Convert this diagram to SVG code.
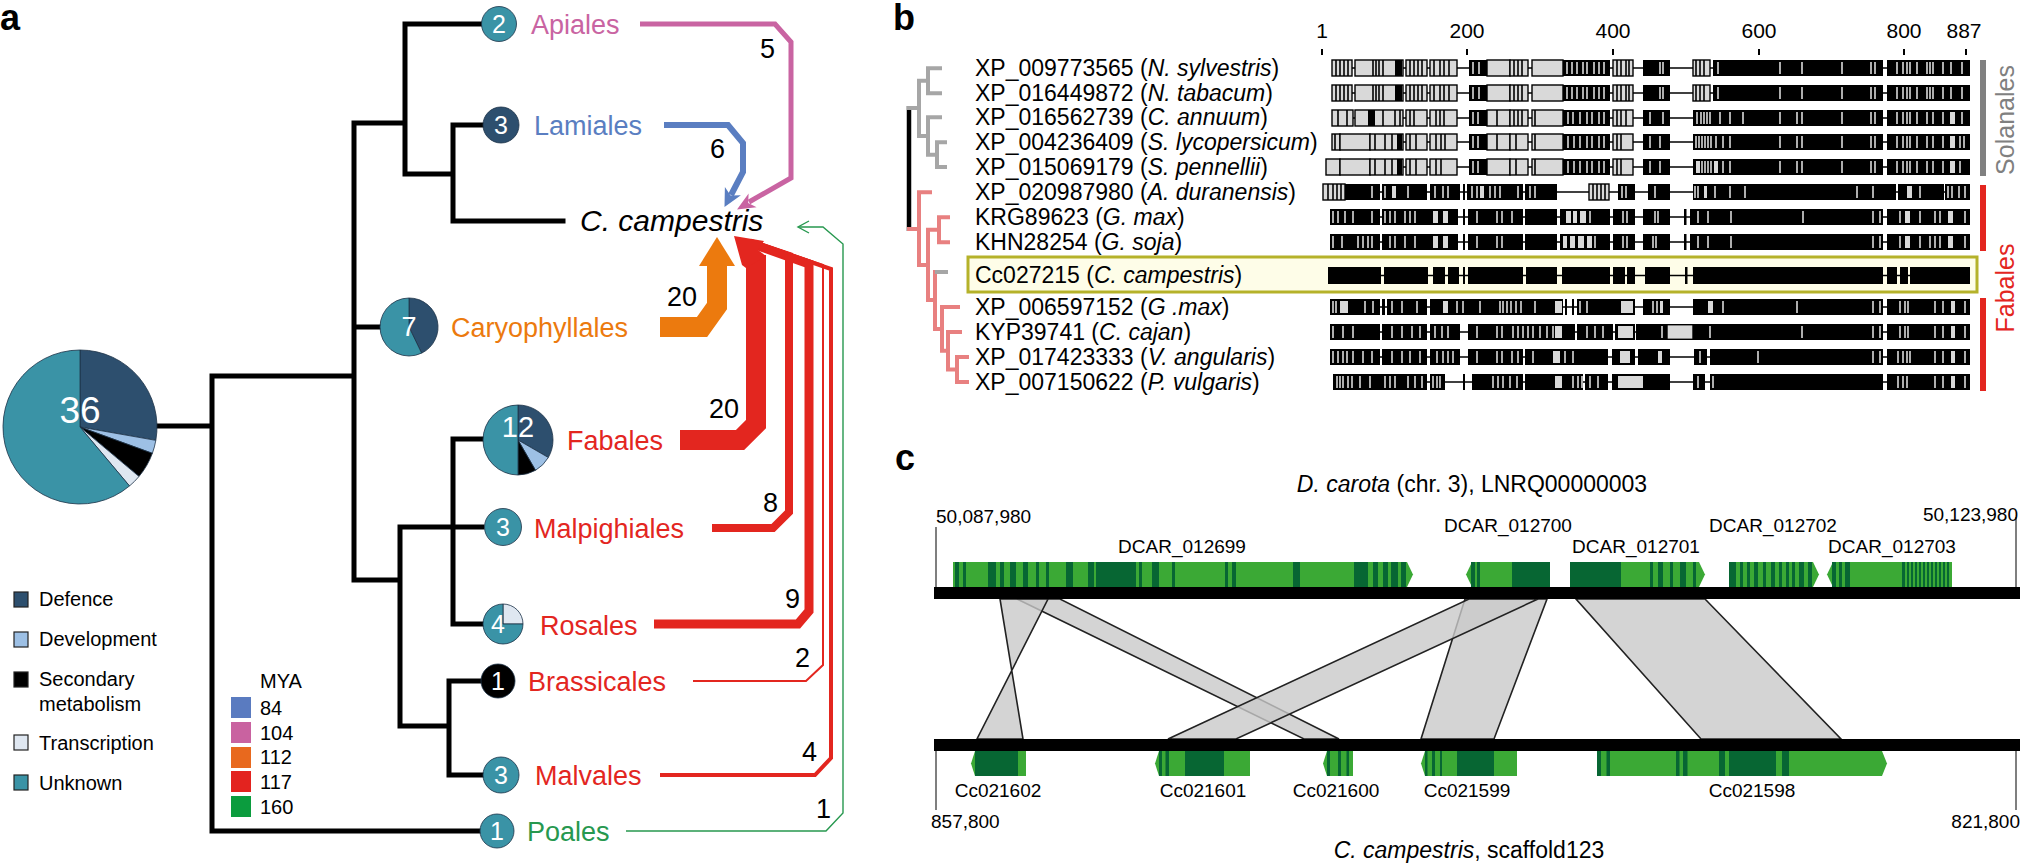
<svg xmlns="http://www.w3.org/2000/svg" xmlns:xlink="http://www.w3.org/1999/xlink" width="2022" height="866" viewBox="0 0 2022 866">
<style>
text{font-family:"Liberation Sans",Arial,sans-serif;fill:#000}
.pl{font-size:36px;font-weight:bold}
.lab{font-size:27px}
.num{font-size:27px}
.cn{font-size:25px;fill:#fff;text-anchor:middle}
.leg{font-size:20px}
.bl{font-size:23px}
.ax{font-size:21px;text-anchor:middle}
.sm{font-size:19px}
.mid{text-anchor:middle}
.end{text-anchor:end}
.it{font-style:italic}
.tree{stroke:#000;stroke-width:5;fill:none;stroke-linecap:square}
.pe{stroke:#1d3247;stroke-width:0.8}
.nv{fill:#2d4f6e}.tl{fill:#3a93a6}.lb{fill:#9dc0e5}.tr{fill:#dfe7f1}.bk{fill:#000}
.flow{fill:none;stroke-linejoin:miter;stroke-miterlimit:10}
.k{fill:#000}
.g{fill:#d9d9d9;stroke:#000;stroke-width:1.4}
.bx{fill:#d9d9d9}
.ws{stroke:#d9d9d9;stroke-width:1.6;fill:none}
.bs{stroke:#000;stroke-width:1.6;fill:none}
.gl{stroke:#000;stroke-width:1.6}
.lg{fill:#3ba935}.dg{fill:#076633}
.rib{fill:#c9c9c9;fill-opacity:0.8;stroke:#222;stroke-width:1.6}
.chr{fill:#000}
.tick{stroke:#555;stroke-width:1.5}
</style>

<!-- ============ PANEL A ============ -->
<text class="pl" x="0" y="30">a</text>

<g id="tree-a">
<path class="tree" d="M156 426H212M212 376V831M212 376H354M354 123V580M354 123H405M405 24V174M405 24H482M405 174H453M453 125V221M453 125H482M453 221H563M354 327H381M354 580H400M400 527V726M400 527H482M453 439V624M453 439H483M453 624H483M400 726H449M449 681V775M449 681H482M449 775H482M212 831H481"/>
</g>

<g id="connectors-a">
<path class="flow" stroke="#27984f" stroke-width="1.4" d="M626 831H826L843 813V244L823 227H799"/>
<path fill="none" stroke="#27984f" stroke-width="1.4" d="M809 221L798 227L809 233"/>
<path class="flow" stroke="#e3261f" stroke-width="4" d="M660 775H815L831 758V269L750 241"/>
<path class="flow" stroke="#e3261f" stroke-width="2" d="M693 681H806L823 665V265L750 240"/>
<path class="flow" stroke="#e3261f" stroke-width="9" d="M654 624H798L809 611V264L750 243"/>
<path class="flow" stroke="#e3261f" stroke-width="8" d="M712 528H773L789 512V256L750 243"/>
<path class="flow" stroke="#e3261f" stroke-width="20" d="M680 440H740L756 424V255"/>
<polygon fill="#e3261f" points="734,236 764,241 758,250 766,256 746,268 742,265"/>
<path class="flow" stroke="#ec7a0e" stroke-width="20" d="M660 327H702L717 306V262"/>
<polygon fill="#ec7a0e" points="717,237 735,266 699,266"/>
<path class="flow" stroke="#5a7ec1" stroke-width="6" d="M664 125H728L743 143V172L731 195"/>
<polygon fill="#5a7ec1" points="724.5,207 740.9,195.3 730.6,195.5 724.9,186.9"/>
<path class="flow" stroke="#c964a2" stroke-width="5" d="M640 24H775L791 42V178L749 202"/>
<polygon fill="#c964a2" points="737,209.5 756.6,207.3 748.2,203 748.6,193.5"/>
</g>

<g id="flow-numbers">
<text class="num" x="760" y="58">5</text>
<text class="num" x="710" y="158">6</text>
<text class="num" x="667" y="306">20</text>
<text class="num" x="709" y="418">20</text>
<text class="num" x="763" y="512">8</text>
<text class="num" x="785" y="608">9</text>
<text class="num" x="795" y="667">2</text>
<text class="num" x="802" y="761">4</text>
<text class="num" x="816" y="818">1</text>
</g>

<g id="root-pie">
<path class="nv pe" d="M80 427L80 350A77 77 0 0 1 155.83 440.37Z"/>
<path class="lb pe" d="M80 427L155.83 440.37A77 77 0 0 1 152.36 453.33Z"/>
<path class="bk pe" d="M80 427L152.36 453.33A77 77 0 0 1 138.98 476.5Z"/>
<path class="tr pe" d="M80 427L138.98 476.5A77 77 0 0 1 129.49 485.98Z"/>
<path class="tl pe" d="M80 427L129.49 485.98A77 77 0 1 1 80 350Z"/>
<text x="80" y="423" text-anchor="middle" style="font-size:37px;fill:#fff">36</text>
</g>

<g id="node-apiales">
<circle class="tl pe" cx="499" cy="24" r="17.5"/>
<text class="cn" x="499" y="33">2</text>
<text class="lab" x="531" y="34" style="fill:#c964a2">Apiales</text>
</g>
<g id="node-lamiales">
<circle class="nv pe" cx="501" cy="125" r="18"/>
<text class="cn" x="501" y="134">3</text>
<text class="lab" x="534" y="135" style="fill:#5a7ec1">Lamiales</text>
</g>
<g id="node-campestris">
<text x="580" y="231" class="it" style="font-size:30px">C. campestris</text>
</g>
<g id="node-caryophyllales">
<path class="nv pe" d="M409 327L409 298A29 29 0 0 1 421.58 353.13Z"/>
<path class="tl pe" d="M409 327L421.58 353.13A29 29 0 1 1 409 298Z"/>
<text class="cn" x="409" y="336" style="font-size:27px">7</text>
<text class="lab" x="451" y="337" style="fill:#ec7a0e">Caryophyllales</text>
</g>
<g id="node-fabales">
<path class="nv pe" d="M518 440L518 405A35 35 0 0 1 548.31 457.5Z"/>
<path class="lb pe" d="M518 440L548.31 457.5A35 35 0 0 1 535.5 470.31Z"/>
<path class="bk pe" d="M518 440L535.5 470.31A35 35 0 0 1 518 475Z"/>
<path class="tl pe" d="M518 440L518 475A35 35 0 0 1 483 440A35 35 0 0 1 518 405Z"/>
<text class="cn" x="518" y="437" style="font-size:29px">12</text>
<text class="lab" x="567" y="450" style="fill:#e3261f">Fabales</text>
</g>
<g id="node-malpighiales">
<circle class="tl pe" cx="503" cy="527" r="18.5"/>
<text class="cn" x="503" y="536">3</text>
<text class="lab" x="534" y="538" style="fill:#e3261f">Malpighiales</text>
</g>
<g id="node-rosales">
<path class="tr pe" d="M503 624L503 604A20 20 0 0 1 523 624Z"/>
<path class="tl pe" d="M503 624L523 624A20 20 0 1 1 503 604Z"/>
<text class="cn" x="498" y="633">4</text>
<text class="lab" x="540" y="635" style="fill:#e3261f">Rosales</text>
</g>
<g id="node-brassicales">
<circle class="bk pe" cx="498" cy="681" r="17"/>
<text class="cn" x="498" y="690">1</text>
<text class="lab" x="528" y="691" style="fill:#e3261f">Brassicales</text>
</g>
<g id="node-malvales">
<circle class="tl pe" cx="501" cy="775" r="18"/>
<text class="cn" x="501" y="784">3</text>
<text class="lab" x="535" y="785" style="fill:#e3261f">Malvales</text>
</g>
<g id="node-poales">
<circle class="tl pe" cx="497" cy="831" r="17"/>
<text class="cn" x="497" y="840">1</text>
<text class="lab" x="527" y="841" style="fill:#27984f">Poales</text>
</g>

<g id="legend-function">
<rect class="nv" x="14" y="592" width="14" height="15" stroke="#222" stroke-width="1.2"/>
<text class="leg" x="39" y="606">Defence</text>
<rect class="lb" x="14" y="632" width="14" height="15" stroke="#222" stroke-width="1.2"/>
<text class="leg" x="39" y="646">Development</text>
<rect class="bk" x="14" y="672" width="14" height="15" stroke="#222" stroke-width="1.2"/>
<text class="leg" x="39" y="686">Secondary</text>
<text class="leg" x="39" y="711">metabolism</text>
<rect class="tr" x="14" y="735" width="14" height="15" stroke="#222" stroke-width="1.2"/>
<text class="leg" x="39" y="750">Transcription</text>
<rect class="tl" x="14" y="775" width="14" height="15" stroke="#222" stroke-width="1.2"/>
<text class="leg" x="39" y="790">Unknown</text>
</g>
<g id="legend-mya">
<text class="leg" x="260" y="688">MYA</text>
<rect x="231" y="697" width="20" height="21" fill="#5a7bc0"/><text class="leg" x="260" y="715">84</text>
<rect x="231" y="722" width="20" height="21" fill="#c962a0"/><text class="leg" x="260" y="740">104</text>
<rect x="231" y="747" width="20" height="21" fill="#e8691e"/><text class="leg" x="260" y="764">112</text>
<rect x="231" y="771" width="20" height="21" fill="#e3231f"/><text class="leg" x="260" y="789">117</text>
<rect x="231" y="796" width="20" height="21" fill="#0b9c3e"/><text class="leg" x="260" y="814">160</text>
</g>

<!-- ============ PANEL B ============ -->
<text class="pl" x="893" y="30">b</text>

<g id="axis-b">
<text class="ax" x="1322" y="38">1</text>
<text class="ax" x="1467" y="38">200</text>
<text class="ax" x="1613" y="38">400</text>
<text class="ax" x="1759" y="38">600</text>
<text class="ax" x="1904" y="38">800</text>
<text class="ax" x="1964" y="38">887</text>
<path stroke="#000" stroke-width="2" d="M1322 49V55M1467 49V55M1613 49V55M1759 49V55M1904 49V55M1966 49V55"/>
</g>

<g id="tree-b">
<path stroke="#000" stroke-width="4.5" fill="none" d="M909 106V231"/>
<path stroke="#a6a6a6" stroke-width="4" fill="none" stroke-linecap="square" d="M909 108H919M919 80.8V136M919 80.8H928M928 68.3V93.3M928 68.3H940M928 93.3H940M919 136H928M928 117.3V154.7M928 117.3H940M928 154.7H937M937 142.3V167M937 142.3H945M937 167H945"/>
<path stroke="#e88080" stroke-width="4" fill="none" stroke-linecap="square" d="M909 229H919M919 192.3V265M919 192.3H930M919 265H928M928 229.8V300M928 229.8H939M939 217.3V242.3M939 217.3H948M939 242.3H948M928 300H935M935 272V329M935 329H942M942 307V350.8M942 307H958M942 350.8H948M948 332V369.5M948 332H960M948 369.5H957M957 357V382M957 357H967M957 382H967"/>
<path stroke="#a6a6a6" stroke-width="4" fill="none" d="M935 272H948"/>
</g>

<rect id="highlight" x="968" y="257" width="1009" height="35" fill="#fefde8" stroke="#b5b22a" stroke-width="3"/>

<g id="labels-b">
<text class="bl" x="975" y="76">XP_009773565 (<tspan class="it">N. sylvestris</tspan>)</text>
<text class="bl" x="975" y="101">XP_016449872 (<tspan class="it">N. tabacum</tspan>)</text>
<text class="bl" x="975" y="125">XP_016562739 (<tspan class="it">C. annuum</tspan>)</text>
<text class="bl" x="975" y="150">XP_004236409 (<tspan class="it">S. lycopersicum</tspan>)</text>
<text class="bl" x="975" y="175">XP_015069179 (<tspan class="it">S. pennellii</tspan>)</text>
<text class="bl" x="975" y="200">XP_020987980 (<tspan class="it">A. duranensis</tspan>)</text>
<text class="bl" x="975" y="225">KRG89623 (<tspan class="it">G. max</tspan>)</text>
<text class="bl" x="975" y="250">KHN28254 (<tspan class="it">G. soja</tspan>)</text>
<text class="bl" x="975" y="283">Cc027215 (<tspan class="it">C. campestris</tspan>)</text>
<text class="bl" x="975" y="315">XP_006597152 (<tspan class="it">G .max</tspan>)</text>
<text class="bl" x="975" y="340">KYP39741 (<tspan class="it">C. cajan</tspan>)</text>
<text class="bl" x="975" y="365">XP_017423333 (<tspan class="it">V. angularis</tspan>)</text>
<text class="bl" x="975" y="390">XP_007150622 (<tspan class="it">P. vulgaris</tspan>)</text>
</g>

<defs>
<g id="solA">
<line class="gl" x1="1332" y1="8" x2="1970" y2="8"/>
<rect class="g" x="1332" y="0" width="20" height="16"/>
<rect class="g" x="1355" y="0" width="48" height="16"/>
<rect class="k" x="1395" y="0" width="7" height="16"/>
<rect class="g" x="1406" y="0" width="21" height="16"/>
<rect class="g" x="1430" y="0" width="27" height="16"/>
<rect class="k" x="1469" y="0" width="18" height="16"/>
<rect class="g" x="1487" y="0" width="23" height="16"/>
<rect class="g" x="1510" y="0" width="18" height="16"/>
<rect class="g" x="1532" y="0" width="31" height="16"/>
<rect class="k" x="1563" y="0" width="47" height="16"/>
<rect class="g" x="1613" y="0" width="20" height="16"/>
<rect class="k" x="1643" y="0" width="27" height="16"/>
<rect class="g" x="1693" y="0" width="17" height="16"/>
<rect class="k" x="1713" y="0" width="170" height="16"/>
<rect class="k" x="1887" y="0" width="83" height="16"/>
<path class="bs" d="M1336 0v16M1340 0v16M1344 0v16M1348 0v16M1373 0v16M1376 0v16M1379 0v16M1383 0v16M1410 0v16M1414 0v16M1418 0v16M1422 0v16M1434 0v16M1440 0v16M1444 0v16M1449 0v16M1514 0v16M1518 0v16M1522 0v16M1617 0v16M1621 0v16M1626 0v16M1629 0v16M1696 0v16M1700 0v16M1704 0v16"/>
<path class="ws" d="M1473 2v12M1479 2v12M1567 2v12M1572 2v12M1577 2v12M1583 2v12M1587 2v12M1594 2v12M1599 2v12M1604 2v12M1660 2v12M1663 2v12M1718 2v12M1780 2v12M1802 2v12M1842 2v12M1871 2v12M1875 2v12M1897 2v12M1903 2v12M1907 2v12M1910 2v12M1917 2v12M1927 2v12M1930 2v12M1933 2v12M1943 2v12M1951 2v12M1962 2v12"/>
</g>
</defs>

<g id="alignment-b">
<use xlink:href="#solA" href="#solA" transform="translate(0,60)"/>
<use xlink:href="#solA" href="#solA" transform="translate(0,85)"/>

<g transform="translate(0,110)">
<line class="gl" x1="1332" y1="8" x2="1970" y2="8"/>
<rect class="g" x="1332" y="0" width="21" height="16"/>
<rect class="g" x="1355" y="0" width="48" height="16"/>
<rect class="k" x="1368" y="0" width="7" height="16"/>
<rect class="g" x="1406" y="0" width="21" height="16"/>
<rect class="g" x="1430" y="0" width="27" height="16"/>
<rect class="k" x="1469" y="0" width="18" height="16"/>
<rect class="g" x="1487" y="0" width="23" height="16"/>
<rect class="g" x="1510" y="0" width="18" height="16"/>
<rect class="g" x="1532" y="0" width="31" height="16"/>
<rect class="k" x="1563" y="0" width="47" height="16"/>
<rect class="g" x="1613" y="0" width="20" height="16"/>
<rect class="k" x="1643" y="0" width="27" height="16"/>
<rect class="k" x="1693" y="0" width="190" height="16"/>
<rect class="k" x="1887" y="0" width="83" height="16"/>
<rect class="bx" x="1950" y="2" width="5" height="12"/>
<path class="bs" d="M1338 0v16M1347 0v16M1383 0v16M1395 0v16M1400 0v16M1410 0v16M1414 0v16M1436 0v16M1440 0v16M1444 0v16M1497 0v16M1514 0v16M1518 0v16M1522 0v16M1535 0v16M1617 0v16M1621 0v16M1626 0v16"/>
<path class="ws" d="M1473 2v12M1478 2v12M1568 2v12M1573 2v12M1580 2v12M1587 2v12M1592 2v12M1599 2v12M1604 2v12M1650 2v12M1663 2v12M1697 2v12M1701 2v12M1704 2v12M1707 2v12M1710 2v12M1720 2v12M1730 2v12M1743 2v12M1780 2v12M1797 2v12M1802 2v12M1842 2v12M1871 2v12M1875 2v12M1897 2v12M1903 2v12M1907 2v12M1910 2v12M1917 2v12M1927 2v12M1933 2v12M1943 2v12M1962 2v12"/>
</g>

<g transform="translate(0,134)">
<line class="gl" x1="1332" y1="8" x2="1970" y2="8"/>
<rect class="g" x="1332" y="0" width="8" height="16"/>
<rect class="g" x="1340" y="0" width="30" height="16"/>
<rect class="g" x="1370" y="0" width="33" height="16"/>
<rect class="k" x="1397" y="0" width="5" height="16"/>
<rect class="g" x="1406" y="0" width="21" height="16"/>
<rect class="g" x="1430" y="0" width="27" height="16"/>
<rect class="k" x="1469" y="0" width="18" height="16"/>
<rect class="g" x="1487" y="0" width="23" height="16"/>
<rect class="g" x="1510" y="0" width="18" height="16"/>
<rect class="g" x="1532" y="0" width="31" height="16"/>
<rect class="k" x="1563" y="0" width="47" height="16"/>
<rect class="g" x="1613" y="0" width="20" height="16"/>
<rect class="k" x="1643" y="0" width="27" height="16"/>
<rect class="k" x="1693" y="0" width="190" height="16"/>
<rect class="k" x="1887" y="0" width="83" height="16"/>
<rect class="bx" x="1950" y="2" width="5" height="12"/>
<path class="bs" d="M1335 0v16M1375 0v16M1385 0v16M1392 0v16M1410 0v16M1416 0v16M1436 0v16M1441 0v16M1445 0v16M1497 0v16M1516 0v16M1535 0v16M1617 0v16M1621 0v16"/>
<path class="ws" d="M1473 2v12M1478 2v12M1568 2v12M1574 2v12M1580 2v12M1587 2v12M1592 2v12M1599 2v12M1604 2v12M1650 2v12M1660 2v12M1696 2v12M1699 2v12M1702 2v12M1705 2v12M1708 2v12M1711 2v12M1716 2v12M1723 2v12M1730 2v12M1780 2v12M1797 2v12M1802 2v12M1842 2v12M1871 2v12M1875 2v12M1897 2v12M1903 2v12M1907 2v12M1910 2v12M1917 2v12M1927 2v12M1933 2v12M1943 2v12M1960 2v12M1964 2v12"/>
</g>

<g transform="translate(0,159)">
<line class="gl" x1="1326" y1="8" x2="1970" y2="8"/>
<rect class="g" x="1326" y="0" width="14" height="16"/>
<rect class="g" x="1340" y="0" width="30" height="16"/>
<rect class="g" x="1370" y="0" width="33" height="16"/>
<rect class="k" x="1397" y="0" width="5" height="16"/>
<rect class="g" x="1406" y="0" width="21" height="16"/>
<rect class="g" x="1430" y="0" width="27" height="16"/>
<rect class="k" x="1469" y="0" width="18" height="16"/>
<rect class="g" x="1487" y="0" width="23" height="16"/>
<rect class="g" x="1510" y="0" width="18" height="16"/>
<rect class="g" x="1532" y="0" width="31" height="16"/>
<rect class="k" x="1563" y="0" width="47" height="16"/>
<rect class="g" x="1613" y="0" width="20" height="16"/>
<rect class="k" x="1643" y="0" width="27" height="16"/>
<rect class="k" x="1693" y="0" width="190" height="16"/>
<rect class="bx" x="1696" y="2" width="4" height="12"/>
<rect class="bx" x="1714" y="2" width="4" height="12"/>
<rect class="k" x="1887" y="0" width="83" height="16"/>
<rect class="bx" x="1950" y="2" width="5" height="12"/>
<path class="bs" d="M1375 0v16M1385 0v16M1392 0v16M1410 0v16M1416 0v16M1436 0v16M1441 0v16M1516 0v16M1535 0v16M1617 0v16M1621 0v16"/>
<path class="ws" d="M1473 2v12M1478 2v12M1568 2v12M1574 2v12M1580 2v12M1587 2v12M1592 2v12M1599 2v12M1604 2v12M1650 2v12M1660 2v12M1702 2v12M1705 2v12M1708 2v12M1711 2v12M1723 2v12M1730 2v12M1780 2v12M1797 2v12M1802 2v12M1842 2v12M1871 2v12M1875 2v12M1897 2v12M1903 2v12M1907 2v12M1910 2v12M1917 2v12M1927 2v12M1933 2v12M1943 2v12M1960 2v12"/>
</g>

<g transform="translate(0,184)">
<line class="gl" x1="1323" y1="8" x2="1970" y2="8"/>
<rect class="g" x="1323" y="0" width="22" height="16"/>
<rect class="k" x="1345" y="0" width="35" height="16"/>
<rect class="k" x="1382" y="0" width="45" height="16"/>
<rect class="k" x="1430" y="0" width="30" height="16"/>
<rect class="k" x="1463" y="0" width="2" height="16"/>
<rect class="k" x="1467" y="0" width="56" height="16"/>
<rect class="k" x="1525" y="0" width="32" height="16"/>
<rect class="g" x="1589" y="0" width="20" height="16"/>
<rect class="k" x="1618" y="0" width="17" height="16"/>
<rect class="k" x="1648" y="0" width="22" height="16"/>
<rect class="k" x="1693" y="0" width="203" height="16"/>
<rect class="k" x="1898" y="0" width="46" height="16"/>
<rect class="k" x="1945" y="0" width="25" height="16"/>
<rect class="bx" x="1392" y="2" width="4" height="12"/>
<rect class="bx" x="1480" y="2" width="4" height="12"/>
<rect class="bx" x="1704" y="2" width="3" height="12"/>
<rect class="bx" x="1907" y="2" width="5" height="12"/>
<path class="bs" d="M1328 0v16M1333 0v16M1337 0v16M1341 0v16M1593 0v16M1597 0v16M1601 0v16M1605 0v16"/>
<path class="ws" d="M1372 2v12M1385 2v12M1408 2v12M1435 2v12M1443 2v12M1448 2v12M1472 2v12M1477 2v12M1490 2v12M1495 2v12M1500 2v12M1518 2v12M1530 2v12M1535 2v12M1622 2v12M1626 2v12M1655 2v12M1695 2v12M1698 2v12M1715 2v12M1730 2v12M1745 2v12M1857 2v12M1873 2v12M1920 2v12M1948 2v12M1952 2v12M1959 2v12M1965 2v12"/>
</g>

<g transform="translate(0,209)">
<line class="gl" x1="1330" y1="8" x2="1970" y2="8"/>
<rect class="k" x="1330" y="0" width="50" height="16"/>
<rect class="k" x="1382" y="0" width="76" height="16"/>
<rect class="k" x="1463" y="0" width="2" height="16"/>
<rect class="k" x="1468" y="0" width="55" height="16"/>
<rect class="k" x="1525" y="0" width="32" height="16"/>
<rect class="k" x="1560" y="0" width="50" height="16"/>
<rect class="k" x="1613" y="0" width="22" height="16"/>
<rect class="k" x="1643" y="0" width="27" height="16"/>
<rect class="k" x="1684" y="0" width="2.5" height="16"/>
<rect class="k" x="1690" y="0" width="193" height="16"/>
<rect class="k" x="1887" y="0" width="83" height="16"/>
<rect class="bx" x="1433" y="2" width="5" height="12"/>
<rect class="bx" x="1443" y="2" width="5" height="12"/>
<rect class="bx" x="1566" y="2" width="5" height="12"/>
<rect class="bx" x="1573" y="2" width="4" height="12"/>
<rect class="bx" x="1580" y="2" width="6" height="12"/>
<rect class="bx" x="1905" y="2" width="5" height="12"/>
<rect class="bx" x="1948" y="2" width="5" height="12"/>
<path class="ws" d="M1333 2v12M1338 2v12M1345 2v12M1353 2v12M1372 2v12M1385 2v12M1390 2v12M1395 2v12M1405 2v12M1410 2v12M1415 2v12M1477 2v12M1497 2v12M1502 2v12M1512 2v12M1590 2v12M1623 2v12M1627 2v12M1655 2v12M1658 2v12M1698 2v12M1708 2v12M1731 2v12M1803 2v12M1873 2v12M1880 2v12M1900 2v12M1920 2v12M1935 2v12M1940 2v12M1965 2v12"/>
</g>

<g transform="translate(0,234)">
<line class="gl" x1="1330" y1="8" x2="1970" y2="8"/>
<rect class="k" x="1330" y="0" width="50" height="16"/>
<rect class="k" x="1382" y="0" width="76" height="16"/>
<rect class="k" x="1463" y="0" width="2" height="16"/>
<rect class="k" x="1468" y="0" width="55" height="16"/>
<rect class="k" x="1525" y="0" width="32" height="16"/>
<rect class="k" x="1560" y="0" width="50" height="16"/>
<rect class="k" x="1613" y="0" width="22" height="16"/>
<rect class="k" x="1643" y="0" width="27" height="16"/>
<rect class="k" x="1684" y="0" width="2.5" height="16"/>
<rect class="k" x="1690" y="0" width="193" height="16"/>
<rect class="k" x="1887" y="0" width="83" height="16"/>
<rect class="bx" x="1433" y="2" width="5" height="12"/>
<rect class="bx" x="1443" y="2" width="5" height="12"/>
<rect class="bx" x="1563" y="2" width="4" height="12"/>
<rect class="bx" x="1570" y="2" width="5" height="12"/>
<rect class="bx" x="1578" y="2" width="6" height="12"/>
<rect class="bx" x="1587" y="2" width="5" height="12"/>
<rect class="bx" x="1905" y="2" width="5" height="12"/>
<rect class="bx" x="1948" y="2" width="5" height="12"/>
<path class="ws" d="M1333 2v12M1342 2v12M1358 2v12M1363 2v12M1368 2v12M1372 2v12M1390 2v12M1395 2v12M1405 2v12M1415 2v12M1477 2v12M1497 2v12M1502 2v12M1595 2v12M1623 2v12M1627 2v12M1653 2v12M1656 2v12M1698 2v12M1708 2v12M1731 2v12M1873 2v12M1880 2v12M1900 2v12M1920 2v12M1930 2v12M1935 2v12M1940 2v12M1965 2v12"/>
</g>

<g transform="translate(0,267)">
<line class="gl" x1="1328" y1="8.5" x2="1970" y2="8.5"/>
<path class="k" d="M1328 0h53v17h-53zM1384 0h44v17h-44zM1433 0h12v17h-12zM1448 0h11v17h-11zM1463 0h2v17h-2zM1468 0h55v17h-55zM1526 0h31v17h-31zM1562 0h48v17h-48zM1613 0h12v17h-12zM1627 0h8v17h-8zM1645 0h25v17h-25zM1685 0h2.5v17h-2.5zM1693 0h190v17h-190zM1887 0h10v17h-10zM1900 0h8v17h-8zM1910 0h60v17h-60z"/>
</g>

<g transform="translate(0,299)">
<line class="gl" x1="1330" y1="8" x2="1970" y2="8"/>
<rect class="k" x="1330" y="0" width="50" height="16"/>
<rect class="k" x="1382" y="0" width="3" height="16"/>
<rect class="k" x="1387" y="0" width="40" height="16"/>
<rect class="k" x="1430" y="0" width="133" height="16"/>
<rect class="k" x="1565" y="0" width="2" height="16"/>
<rect class="k" x="1572" y="0" width="2" height="16"/>
<rect class="k" x="1577" y="0" width="58" height="16"/>
<rect class="k" x="1643" y="0" width="27" height="16"/>
<rect class="k" x="1693" y="0" width="190" height="16"/>
<rect class="k" x="1887" y="0" width="83" height="16"/>
<rect class="bx" x="1340" y="2" width="8" height="12"/>
<rect class="bx" x="1443" y="2" width="5" height="12"/>
<rect class="bx" x="1555" y="2" width="7" height="12"/>
<rect class="bx" x="1621" y="2" width="12" height="12"/>
<rect class="bx" x="1660" y="2" width="3" height="12"/>
<rect class="bx" x="1708" y="2" width="5" height="12"/>
<rect class="bx" x="1951" y="2" width="4" height="12"/>
<path class="ws" d="M1333 2v12M1336 2v12M1365 2v12M1373 2v12M1392 2v12M1402 2v12M1417 2v12M1457 2v12M1463 2v12M1480 2v12M1500 2v12M1503 2v12M1507 2v12M1511 2v12M1516 2v12M1521 2v12M1535 2v12M1580 2v12M1587 2v12M1653 2v12M1657 2v12M1723 2v12M1797 2v12M1873 2v12M1880 2v12M1900 2v12M1905 2v12M1908 2v12M1935 2v12M1943 2v12M1965 2v12"/>
</g>

<g transform="translate(0,324)">
<line class="gl" x1="1330" y1="8" x2="1970" y2="8"/>
<rect class="k" x="1330" y="0" width="50" height="16"/>
<rect class="k" x="1382" y="0" width="45" height="16"/>
<rect class="k" x="1430" y="0" width="30" height="16"/>
<rect class="k" x="1468" y="0" width="107" height="16"/>
<rect class="k" x="1577" y="0" width="36" height="16"/>
<rect class="k" x="1615" y="0" width="20" height="16"/>
<rect class="k" x="1636" y="0" width="31" height="16"/>
<rect class="g" x="1667" y="0.7" width="26" height="14.6"/>
<rect class="k" x="1693" y="0" width="190" height="16"/>
<rect class="k" x="1887" y="0" width="83" height="16"/>
<rect class="bx" x="1555" y="2" width="7" height="12"/>
<rect class="bx" x="1618" y="2" width="15" height="12"/>
<rect class="bx" x="1951" y="2" width="4" height="12"/>
<path class="ws" d="M1333 2v12M1343 2v12M1353 2v12M1392 2v12M1402 2v12M1412 2v12M1420 2v12M1435 2v12M1442 2v12M1448 2v12M1477 2v12M1497 2v12M1502 2v12M1513 2v12M1518 2v12M1523 2v12M1528 2v12M1533 2v12M1540 2v12M1547 2v12M1553 2v12M1587 2v12M1595 2v12M1603 2v12M1662 2v12M1710 2v12M1802 2v12M1873 2v12M1880 2v12M1900 2v12M1905 2v12M1908 2v12M1935 2v12M1943 2v12M1965 2v12"/>
</g>

<g transform="translate(0,349)">
<line class="gl" x1="1330" y1="8" x2="1970" y2="8"/>
<rect class="k" x="1330" y="0" width="50" height="16"/>
<rect class="k" x="1382" y="0" width="45" height="16"/>
<rect class="k" x="1430" y="0" width="30" height="16"/>
<rect class="k" x="1468" y="0" width="55" height="16"/>
<rect class="k" x="1525" y="0" width="83" height="16"/>
<rect class="k" x="1612" y="0" width="23" height="16"/>
<rect class="k" x="1638" y="0" width="32" height="16"/>
<rect class="k" x="1694" y="0" width="13" height="16"/>
<rect class="k" x="1710" y="0" width="173" height="16"/>
<rect class="k" x="1887" y="0" width="83" height="16"/>
<rect class="bx" x="1553" y="2" width="7" height="12"/>
<rect class="bx" x="1620" y="2" width="10" height="12"/>
<rect class="bx" x="1658" y="2" width="4" height="12"/>
<rect class="bx" x="1951" y="2" width="4" height="12"/>
<path class="ws" d="M1333 2v12M1338 2v12M1343 2v12M1347 2v12M1353 2v12M1363 2v12M1372 2v12M1392 2v12M1402 2v12M1410 2v12M1420 2v12M1437 2v12M1443 2v12M1448 2v12M1453 2v12M1477 2v12M1497 2v12M1502 2v12M1512 2v12M1518 2v12M1533 2v12M1565 2v12M1573 2v12M1700 2v12M1758 2v12M1873 2v12M1880 2v12M1898 2v12M1903 2v12M1907 2v12M1910 2v12M1935 2v12M1943 2v12M1965 2v12"/>
</g>

<g transform="translate(0,374)">
<line class="gl" x1="1333" y1="8" x2="1970" y2="8"/>
<rect class="k" x="1333" y="0" width="94" height="16"/>
<rect class="k" x="1430" y="0" width="15" height="16"/>
<rect class="k" x="1463" y="0" width="2" height="16"/>
<rect class="k" x="1472" y="0" width="51" height="16"/>
<rect class="k" x="1525" y="0" width="58" height="16"/>
<rect class="k" x="1585" y="0" width="23" height="16"/>
<rect class="k" x="1612" y="0" width="58" height="16"/>
<rect class="k" x="1693" y="0" width="12" height="16"/>
<rect class="k" x="1710" y="0" width="173" height="16"/>
<rect class="k" x="1887" y="0" width="83" height="16"/>
<rect class="bx" x="1555" y="2" width="7" height="12"/>
<rect class="bx" x="1618" y="2" width="25" height="12"/>
<rect class="bx" x="1951" y="2" width="4" height="12"/>
<path class="ws" d="M1337 2v12M1340 2v12M1343 2v12M1348 2v12M1352 2v12M1360 2v12M1370 2v12M1385 2v12M1390 2v12M1395 2v12M1408 2v12M1415 2v12M1422 2v12M1433 2v12M1437 2v12M1440 2v12M1493 2v12M1498 2v12M1503 2v12M1510 2v12M1517 2v12M1573 2v12M1578 2v12M1582 2v12M1590 2v12M1598 2v12M1698 2v12M1713 2v12M1898 2v12M1903 2v12M1907 2v12M1935 2v12M1943 2v12M1965 2v12"/>
</g>
</g>

<g id="clade-bars-b">
<rect x="1980" y="60" width="6" height="116" fill="#808080"/>
<rect x="1980" y="185" width="6" height="66" fill="#e3261f"/>
<rect x="1980" y="298" width="6" height="93" fill="#e3261f"/>
<text transform="translate(2014,120) rotate(-90)" class="mid" style="font-size:25px;fill:#808080">Solanales</text>
<text transform="translate(2014,288) rotate(-90)" class="mid" style="font-size:25px;fill:#e3261f">Fabales</text>
</g>

<!-- ============ PANEL C ============ -->
<text class="pl" x="895" y="470">c</text>
<text x="1472" y="492" class="mid" style="font-size:23px"><tspan class="it">D. carota</tspan> (chr. 3), LNRQ00000003</text>
<text x="1469" y="858" class="mid" style="font-size:23px"><tspan class="it">C. campestris</tspan>, scaffold123</text>

<g id="coords-c">
<path class="tick" d="M936 527V587M2016 517V587M936 751V810M2016 751V810"/>
<text class="sm" x="936" y="523">50,087,980</text>
<text class="sm end" x="2018" y="521">50,123,980</text>
<text class="sm" x="931" y="828">857,800</text>
<text class="sm end" x="2020" y="828">821,800</text>
</g>

<g id="ribbons-c">
<polygon class="rib" points="1017,599 1060,599 1339,739 1304,739"/>
<polygon class="rib" points="1000,599 1048,599 977,739 1023,739"/>
<polygon class="rib" points="1465,599 1547,599 1494,739 1421,739"/>
<polygon class="rib" points="1469,599 1538,599 1236,739 1168,739"/>
<polygon class="rib" points="1576,599 1705,599 1841,739 1701,739"/>
</g>

<rect id="chr-top" class="chr" x="934" y="587" width="1086" height="12"/>
<rect id="chr-bottom" class="chr" x="934" y="739" width="1086" height="12"/>

<g id="gene-DCAR_012699">
<polygon class="lg" points="953,562 1407,562 1413,574.5 1407,587 953,587"/>
<path class="dg" d="M955 562h4v25h-4zM963 562h3v25h-3zM988 562h8v25h-8zM1000 562h4v25h-4zM1010 562h6v25h-6zM1023 562h5v25h-5zM1036 562h3v25h-3zM1046 562h3v25h-3zM1066 562h7v25h-7zM1088 562h6v25h-6zM1096 562h40v25h-40zM1139 562h3v25h-3zM1152 562h7v25h-7zM1172 562h3v25h-3zM1225 562h3v25h-3zM1232 562h4v25h-4zM1293 562h7v25h-7zM1354 562h14v25h-14zM1373 562h5v25h-5zM1383 562h5v25h-5zM1391 562h7v25h-7zM1401 562h5v25h-5z"/>
<text class="sm mid" x="1182" y="553">DCAR_012699</text>
</g>
<g id="gene-DCAR_012700">
<polygon class="lg" points="1466,574.5 1472,562 1550,562 1550,587 1472,587"/>
<path class="dg" d="M1471 562h4v25h-4zM1477 562h3v25h-3zM1512 562h38v25h-38z"/>
<text class="sm mid" x="1508" y="532">DCAR_012700</text>
</g>
<g id="gene-DCAR_012701">
<polygon class="lg" points="1570,562 1699,562 1705,574.5 1699,587 1570,587"/>
<path class="dg" d="M1570 562h51v25h-51zM1650 562h3v25h-3zM1658 562h5v25h-5zM1670 562h3v25h-3zM1680 562h6v25h-6zM1693 562h3v25h-3z"/>
<text class="sm mid" x="1636" y="553">DCAR_012701</text>
</g>
<g id="gene-DCAR_012702">
<polygon class="lg" points="1729,562 1813,562 1819,574.5 1813,587 1729,587"/>
<path class="dg" d="M1729 562h7v25h-7zM1740 562h3v25h-3zM1747 562h3v25h-3zM1754 562h4v25h-4zM1763 562h3v25h-3zM1771 562h4v25h-4zM1779 562h3v25h-3zM1786 562h3v25h-3zM1792 562h3v25h-3zM1799 562h5v25h-5zM1808 562h4v25h-4z"/>
<text class="sm mid" x="1773" y="532">DCAR_012702</text>
</g>
<g id="gene-DCAR_012703">
<polygon class="lg" points="1827,574.5 1833,562 1952,562 1952,587 1833,587"/>
<path class="dg" d="M1832 562h4v25h-4zM1839 562h3v25h-3zM1845 562h5v25h-5zM1902 562h3v25h-3zM1907 562h2v25h-2zM1911 562h2v25h-2zM1915 562h2v25h-2zM1919 562h2v25h-2zM1923 562h2v25h-2zM1927 562h2v25h-2zM1931 562h2v25h-2zM1935 562h2v25h-2zM1939 562h2v25h-2zM1943 562h2v25h-2zM1947 562h2v25h-2z"/>
<text class="sm mid" x="1892" y="553">DCAR_012703</text>
</g>

<g id="gene-Cc021602">
<polygon class="lg" points="971,763.5 975,751 1026,751 1026,776 975,776"/>
<path class="dg" d="M975 751h43v25h-43z"/>
<text class="sm mid" x="998" y="797">Cc021602</text>
</g>
<g id="gene-Cc021601">
<polygon class="lg" points="1155,763.5 1159,751 1250,751 1250,776 1159,776"/>
<path class="dg" d="M1159 751h3v25h-3zM1165.5 751h3.5v25h-3.5zM1185 751h39v25h-39z"/>
<text class="sm mid" x="1203" y="797">Cc021601</text>
</g>
<g id="gene-Cc021600">
<polygon class="lg" points="1323,763.5 1327,751 1353,751 1353,776 1327,776"/>
<path class="dg" d="M1327 751h3v25h-3zM1338 751h3v25h-3zM1346.5 751h2.5v25h-2.5z"/>
<text class="sm mid" x="1336" y="797">Cc021600</text>
</g>
<g id="gene-Cc021599">
<polygon class="lg" points="1421,763.5 1425,751 1517,751 1517,776 1425,776"/>
<path class="dg" d="M1425 751h2.5v25h-2.5zM1432 751h3v25h-3zM1440 751h2v25h-2zM1457 751h37v25h-37z"/>
<text class="sm mid" x="1467" y="797">Cc021599</text>
</g>
<g id="gene-Cc021598">
<polygon class="lg" points="1597,751 1882,751 1887,763.5 1882,776 1597,776"/>
<path class="dg" d="M1597 751h4v25h-4zM1606.5 751h3.5v25h-3.5zM1676 751h3.5v25h-3.5zM1683 751h4.5v25h-4.5zM1719 751h6v25h-6zM1729 751h47v25h-47zM1782 751h7v25h-7z"/>
<text class="sm mid" x="1752" y="797">Cc021598</text>
</g>
</svg>
